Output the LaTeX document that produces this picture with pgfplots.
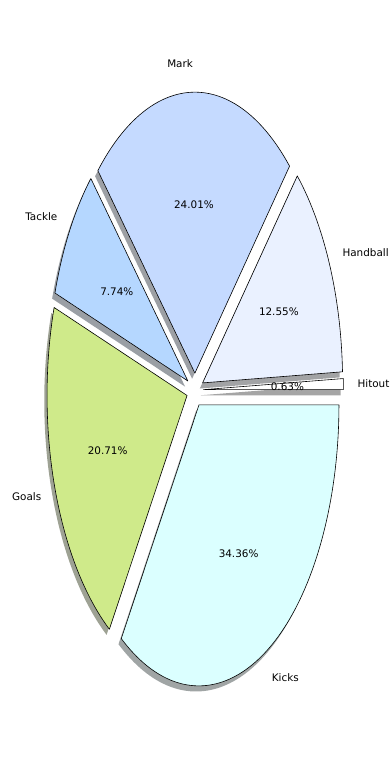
\documentclass[border=0pt]{standalone}
\usepackage{pgfplots}
\pgfplotsset{compat=1.18}
\usepackage{fontspec}
\setmainfont{DejaVu Sans}
\definecolor{cHit}{RGB}{255,255,255}
\definecolor{cHand}{RGB}{234,241,255}
\definecolor{cMark}{RGB}{197,218,255}
\definecolor{cTack}{RGB}{181,215,255}
\definecolor{cGoal}{RGB}{207,234,138}
\definecolor{cKick}{RGB}{219,255,255}
\begin{document}
\begin{tikzpicture}
\begin{axis}[
  scale only axis, width=390bp, height=780bp,
  xmin=-1.392857, xmax=1.392857,
  ymin=-1.387900, ymax=1.387900,
  hide axis, clip=false,
]
\path (rel axis cs:0,0) rectangle (rel axis cs:1,1);
% label / percent / colour / cumulative start (percent)
\def\piedata{Hitout/0.63/cHit/0, Handball/12.55/cHand/0.63, Mark/24.01/cMark/13.18, Tackle/7.74/cTack/37.19, Goals/20.71/cGoal/44.93, Kicks/34.36/cKick/65.64}
\pgfplotsextra{
  % shadows
  \foreach \lab/\val/\col/\start in \piedata {
    \pgfmathsetmacro\a{\start*3.6}
    \pgfmathsetmacro\b{(\start+\val)*3.6}
    \pgfmathsetmacro\m{(\a+\b)/2}
    \pgfmathsetmacro\cx{0.06*cos(\m)-0.02}
    \pgfmathsetmacro\cy{0.06*sin(\m)-0.02}
    \pgfmathsetmacro\px{\cx+cos(\a)}
    \pgfmathsetmacro\py{\cy+sin(\a)}
    \fill[fill=\col!30!black, fill opacity=0.5] (axis cs:\cx,\cy) -- (axis cs:\px,\py) arc[start angle=\a, end angle=\b, x radius=140bp, y radius=281bp] -- cycle;
  }
  % wedges
  \foreach \lab/\val/\col/\start in \piedata {
    \pgfmathsetmacro\a{\start*3.6}
    \pgfmathsetmacro\b{(\start+\val)*3.6}
    \pgfmathsetmacro\m{(\a+\b)/2}
    \pgfmathsetmacro\cx{0.06*cos(\m)}
    \pgfmathsetmacro\cy{0.06*sin(\m)}
    \pgfmathsetmacro\px{\cx+cos(\a)}
    \pgfmathsetmacro\py{\cy+sin(\a)}
    \filldraw[fill=\col, draw=black, line width=0.6bp, line join=round] (axis cs:\cx,\cy) -- (axis cs:\px,\py) arc[start angle=\a, end angle=\b, x radius=140bp, y radius=281bp] -- cycle;
  }
  % labels
  \foreach \lab/\val/\col/\start in \piedata {
    \pgfmathsetmacro\a{\start*3.6}
    \pgfmathsetmacro\b{(\start+\val)*3.6}
    \pgfmathsetmacro\m{(\a+\b)/2}
    \pgfmathsetmacro\lx{1.16*cos(\m)}
    \pgfmathsetmacro\ly{1.16*sin(\m)}
    \pgfmathsetmacro\qx{0.66*cos(\m)}
    \pgfmathsetmacro\qy{0.66*sin(\m)}
    \pgfmathparse{cos(\m)>0 ? "west" : "east"}\let\anch\pgfmathresult
    \node[anchor=\anch, inner sep=0pt, font=\fontsize{10.4bp}{12bp}\selectfont] at (axis cs:\lx,\ly) {\lab};
    \node[anchor=center, inner sep=0pt, font=\fontsize{10.4bp}{12bp}\selectfont] at (axis cs:\qx,\qy) {\val\%};
  }
}
\end{axis}
\end{tikzpicture}
\end{document}
